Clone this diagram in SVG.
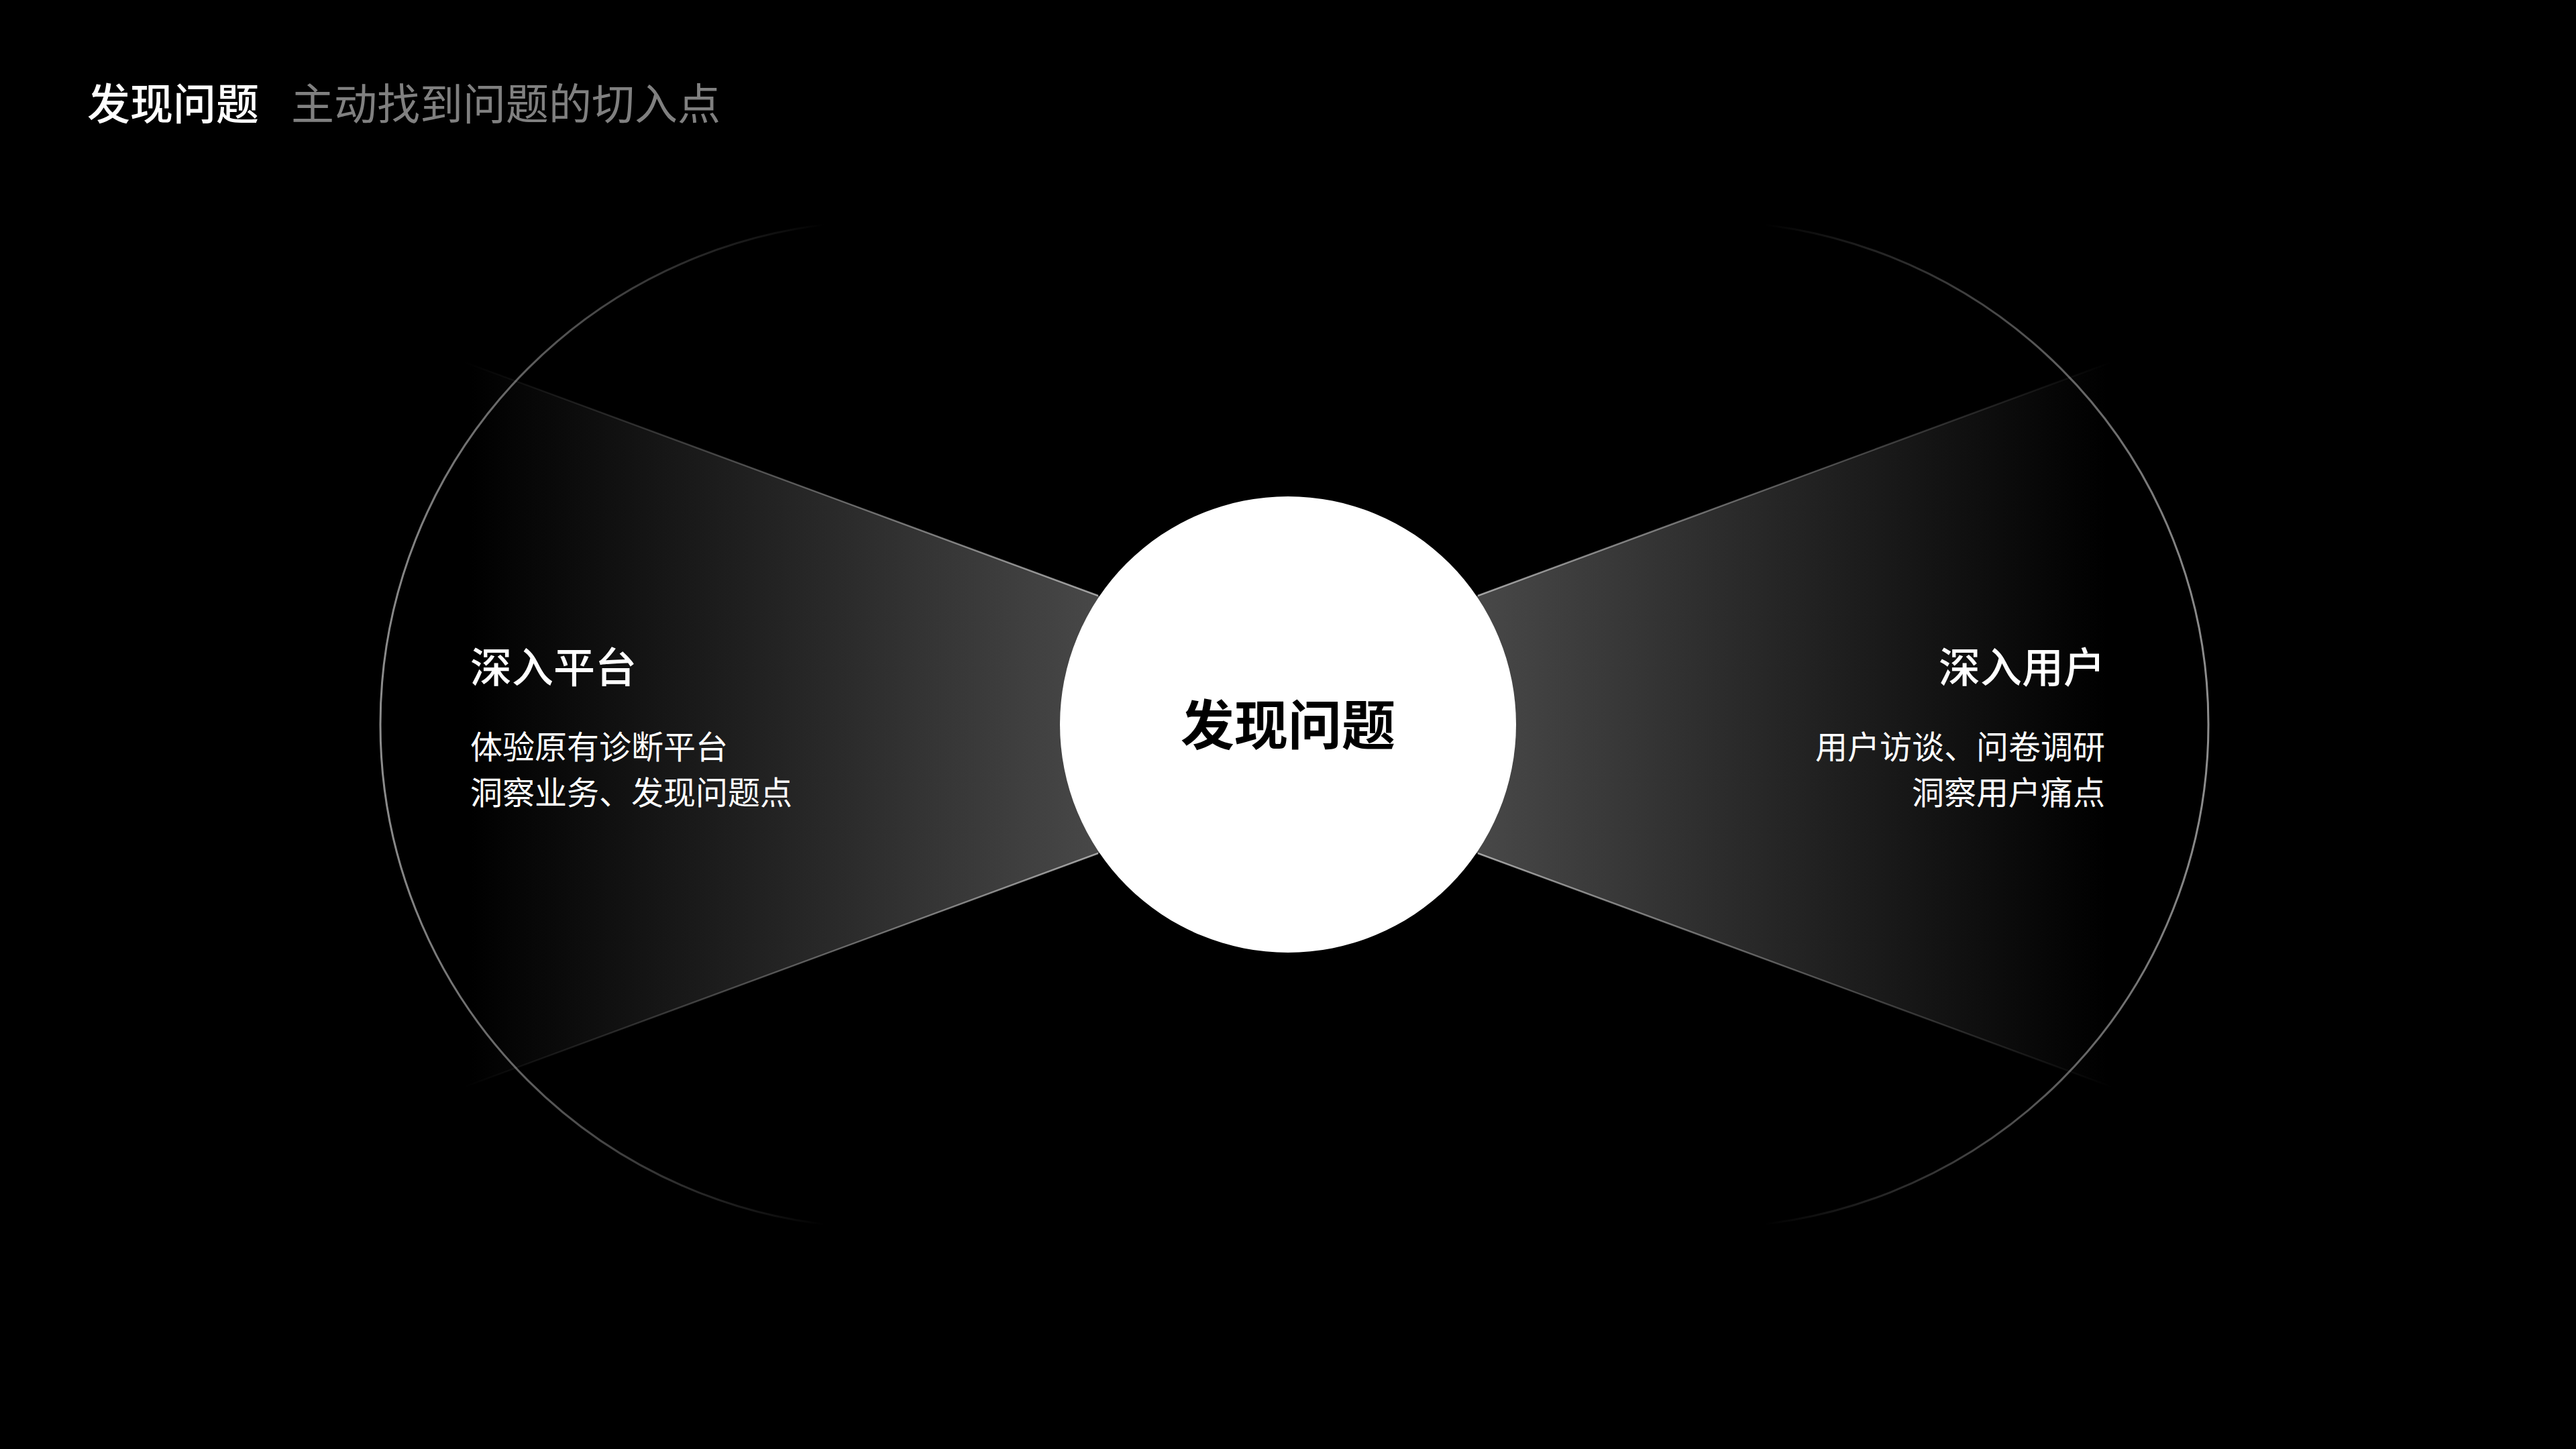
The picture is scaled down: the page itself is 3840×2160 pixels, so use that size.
<svg xmlns="http://www.w3.org/2000/svg" width="3840" height="2160" viewBox="0 0 3840 2160">
  <defs>
    <style>
      text { font-family: "Noto Sans CJK SC", "Noto Sans", sans-serif; }
      .title { font-size: 64px; font-weight: 500; fill: #ffffff; }
      .subtitle { font-size: 64px; font-weight: 400; fill: #808080; }
      .head { font-size: 62px; font-weight: 500; fill: #ffffff; }
      .body { font-size: 48px; font-weight: 400; fill: #ffffff; }
      .center { font-size: 80px; font-weight: 700; fill: #000000; }
      .edge { stroke-width: 2.5; fill: none; }
      .ring { stroke-width: 3; fill: none; }
    </style>
    <linearGradient id="fanL" gradientUnits="userSpaceOnUse" x1="1640" y1="0" x2="700" y2="0">
      <stop offset="0" stop-color="#484848"/>
      <stop offset="1" stop-color="#000000"/>
    </linearGradient>
    <linearGradient id="fanR" gradientUnits="userSpaceOnUse" x1="2200" y1="0" x2="3140" y2="0">
      <stop offset="0" stop-color="#484848"/>
      <stop offset="1" stop-color="#000000"/>
    </linearGradient>
    <linearGradient id="edgeL" gradientUnits="userSpaceOnUse" x1="1637" y1="0" x2="690" y2="0">
      <stop offset="0" stop-color="#ffffff" stop-opacity="0.55"/>
      <stop offset="1" stop-color="#ffffff" stop-opacity="0"/>
    </linearGradient>
    <linearGradient id="edgeR" gradientUnits="userSpaceOnUse" x1="2203" y1="0" x2="3150" y2="0">
      <stop offset="0" stop-color="#ffffff" stop-opacity="0.55"/>
      <stop offset="1" stop-color="#ffffff" stop-opacity="0"/>
    </linearGradient>
    <linearGradient id="ringL" gradientUnits="userSpaceOnUse" x1="567" y1="0" x2="1230" y2="0">
      <stop offset="0" stop-color="#ffffff" stop-opacity="0.55"/>
      <stop offset="1" stop-color="#ffffff" stop-opacity="0"/>
    </linearGradient>
    <linearGradient id="ringR" gradientUnits="userSpaceOnUse" x1="3292" y1="0" x2="2630" y2="0">
      <stop offset="0" stop-color="#ffffff" stop-opacity="0.55"/>
      <stop offset="1" stop-color="#ffffff" stop-opacity="0"/>
    </linearGradient>
  </defs>

  <rect x="0" y="0" width="3840" height="2160" fill="#000000"/>

  <g id="header">
    <text class="title" x="130" y="178">发现问题</text>
    <text class="subtitle" x="434" y="178">主动找到问题的切入点</text>
  </g>

  <g id="connectors">
    <polygon points="2159,1080 690,539 690,1621" fill="url(#fanL)"/>
    <polygon points="1681,1080 3150,539 3150,1621" fill="url(#fanR)"/>
    <line class="edge" x1="1637" y1="888" x2="690" y2="539" stroke="url(#edgeL)"/>
    <line class="edge" x1="1637" y1="1272" x2="690" y2="1621" stroke="url(#edgeL)"/>
    <line class="edge" x1="2203" y1="888" x2="3150" y2="539" stroke="url(#edgeR)"/>
    <line class="edge" x1="2203" y1="1272" x2="3150" y2="1621" stroke="url(#edgeR)"/>
  </g>

  <g id="rings">
    <circle class="ring" cx="1317" cy="1080" r="750" stroke="url(#ringL)"/>
    <circle class="ring" cx="2542" cy="1080" r="750" stroke="url(#ringR)"/>
  </g>

  <g id="node-center">
    <circle cx="1920" cy="1080" r="340" fill="#ffffff"/>
    <text class="center" x="1920" y="1110" text-anchor="middle">发现问题</text>
  </g>

  <g id="node-left">
    <text class="head" x="701" y="1018">深入平台</text>
    <text class="body" x="701" y="1131">体验原有诊断平台</text>
    <text class="body" x="701" y="1199">洞察业务、发现问题点</text>
  </g>

  <g id="node-right">
    <text class="head" x="3138" y="1018" text-anchor="end">深入用户</text>
    <text class="body" x="3138" y="1131" text-anchor="end">用户访谈、问卷调研</text>
    <text class="body" x="3138" y="1199" text-anchor="end">洞察用户痛点</text>
  </g>
</svg>
